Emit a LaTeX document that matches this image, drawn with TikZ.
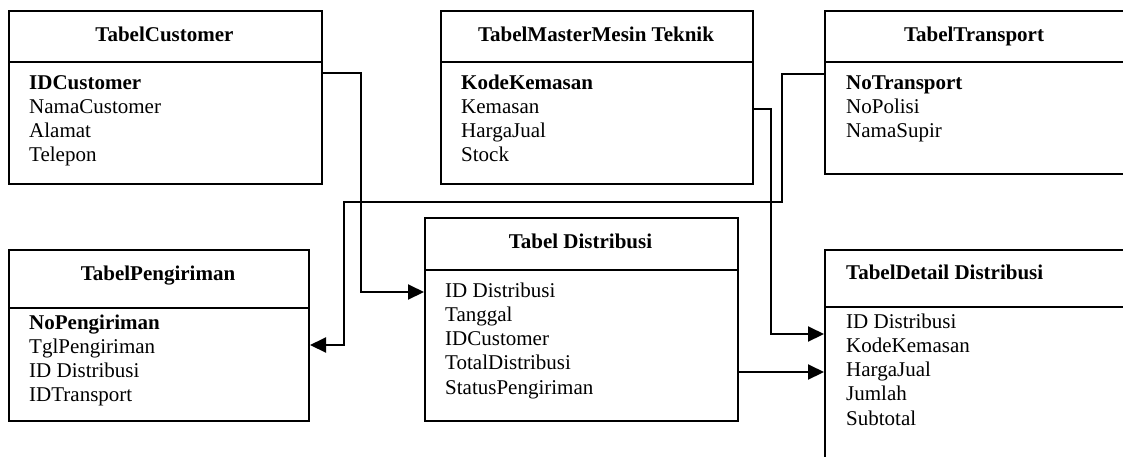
\documentclass[tikz,border=0pt]{standalone}
\usepackage{fontspec}
\setmainfont{Liberation Serif}
\usetikzlibrary{arrows.meta}

\newcommand\tblfont{\fontsize{21}{24}\selectfont}

% list of field rows of a table, one node per row
% #1 name prefix, #2 left x, #3 baseline of the first row, #4 rows
\newcommand\fieldrows[4]{%
  \foreach \t [count=\i] in {#4} {%
    \node[fieldtext] (#1-\i) at (#2, #3+24.3*\i-24.3) {\t};
  }%
}

\begin{document}
\begin{tikzpicture}[x=1pt, y=-1pt,
  tablebox/.style={draw, line width=2pt, rectangle, inner sep=0pt,
                   anchor=north west},
  headtext/.style={anchor=base, inner sep=0pt, font=\tblfont\bfseries},
  fieldtext/.style={anchor=base west, inner sep=0pt, font=\tblfont},
  sep/.style={line width=2pt},
  link/.style={line width=2pt, -{Triangle[length=16pt, width=15pt]}},
]
\useasboundingbox (0,0) rectangle (1123,456);
\clip (0,0) rectangle (1123,456);

% table outlines
\node[tablebox, minimum width=313pt, minimum height=173pt] (cust)  at (8,10)   {};
\node[tablebox, minimum width=312pt, minimum height=173pt] (mesin) at (440,10) {};
\node[tablebox, minimum width=300pt, minimum height=163pt] (trans) at (824,10) {};
\node[tablebox, minimum width=300pt, minimum height=171pt] (peng)  at (8,249)  {};
\node[tablebox, minimum width=313pt, minimum height=203pt] (dist)  at (424,217) {};
\node[tablebox, minimum width=310pt, minimum height=230pt] (det)   at (824,249) {};

% header separators
\draw[sep] ([yshift=-52pt]cust.north west)  -- ([yshift=-52pt]cust.north east);
\draw[sep] ([yshift=-52pt]mesin.north west) -- ([yshift=-52pt]mesin.north east);
\draw[sep] ([yshift=-52pt]trans.north west) -- ([yshift=-52pt]trans.north east);
\draw[sep] ([yshift=-59pt]peng.north west)  -- ([yshift=-59pt]peng.north east);
\draw[sep] ([yshift=-53pt]dist.north west)  -- ([yshift=-53pt]dist.north east);
\draw[sep] ([yshift=-58pt]det.north west)   -- ([yshift=-58pt]det.north east);

% table titles
\node[headtext] (custT)  at (164.5,41) {TabelCustomer};
\node[headtext] (mesinT) at (596,41)   {TabelMasterMesin Teknik};
\node[headtext] (transT) at (974,41)   {TabelTransport};
\node[headtext] (pengT)  at (158,280)  {TabelPengiriman};
\node[headtext] (distT)  at (580.5,248) {Tabel Distribusi};
\node[headtext, anchor=base west] (detT) at (846,279) {TabelDetail Distribusi};

% fields
\fieldrows{cf}{29}{89}{{\bfseries IDCustomer},NamaCustomer,Alamat,Telepon}
\fieldrows{mf}{461}{89}{{\bfseries KodeKemasan},Kemasan,HargaJual,Stock}
\fieldrows{tf}{846}{89}{{\bfseries NoTransport},NoPolisi,NamaSupir}
\fieldrows{pf}{29}{329}{{\bfseries NoPengiriman},TglPengiriman,ID Distribusi,IDTransport}
\fieldrows{df}{445}{297}{ID Distribusi,Tanggal,IDCustomer,TotalDistribusi,StatusPengiriman}
\fieldrows{ef}{846}{328}{ID Distribusi,KodeKemasan,HargaJual,Jumlah,Subtotal}

% relationships
\coordinate (crossing) at (344,202);
\draw[link] ([yshift=-63pt]cust.north east) -- ++(38,0)
            |- ([yshift=-75pt]dist.north west);
\draw[link] ([yshift=-64pt]trans.north west) -- ++(-42,0)
            |- (crossing) |- ([yshift=-96pt]peng.north east);
\draw[link] ([yshift=-99pt]mesin.north east) -- ++(17,0)
            |- ([yshift=-85pt]det.north west);
\draw[link] ([yshift=-155pt]dist.north east) -- ([yshift=-123pt]det.north west);
\end{tikzpicture}
\end{document}
